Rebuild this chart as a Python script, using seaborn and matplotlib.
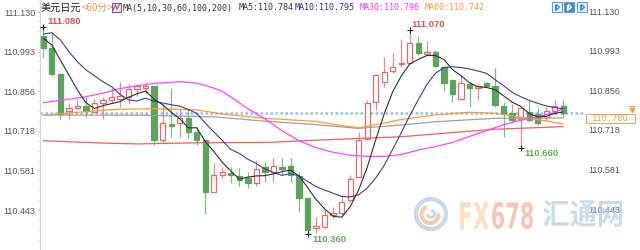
import numpy as np
import matplotlib
matplotlib.use('Agg')
import matplotlib.pyplot as plt
import seaborn as sns
from matplotlib.patches import Rectangle, PathPatch, Ellipse, Arc
from matplotlib.textpath import TextPath
from matplotlib.font_manager import FontProperties
from matplotlib.transforms import Affine2D
from matplotlib.lines import Line2D
from matplotlib.ticker import AutoMinorLocator

# ---------------- data ----------------
opens = [111.046, 111.005, 110.915, 110.787, 110.797, 110.805, 110.785, 110.816, 110.825, 110.830,
         110.835, 110.865, 110.866, 110.874, 110.687, 110.742, 110.745, 110.762, 110.715, 110.687,
         110.505, 110.565, 110.573, 110.563, 110.554, 110.537, 110.594, 110.577, 110.594, 110.597,
         110.563, 110.484, 110.380, 110.386, 110.426, 110.434, 110.478, 110.559, 110.689, 110.818,
         110.889, 110.927, 110.949, 110.955, 111.024, 110.985, 110.993, 110.941, 110.895, 110.828,
         110.881, 110.866, 110.883, 110.874, 110.805, 110.779, 110.758, 110.785, 110.777, 110.768,
         110.788, 110.805]
highs = [111.080, 111.057, 110.915, 110.816, 110.825, 110.835, 110.828, 110.835, 110.866, 110.889,
         110.880, 110.877, 110.889, 110.874, 110.812, 110.866, 110.793, 110.793, 110.733, 110.687,
         110.608, 110.594, 110.594, 110.588, 110.577, 110.617, 110.611, 110.623, 110.625, 110.623,
         110.577, 110.484, 110.420, 110.444, 110.455, 110.496, 110.565, 110.715, 110.825, 110.915,
         110.976, 110.990, 111.036, 111.070, 111.047, 111.030, 111.000, 110.941, 110.895, 110.912,
         110.889, 110.882, 110.889, 110.935, 110.820, 110.810, 110.797, 110.825, 110.800, 110.800,
         110.826, 110.826]
lows = [110.970, 110.909, 110.758, 110.758, 110.793, 110.768, 110.785, 110.758, 110.815, 110.800,
        110.810, 110.840, 110.846, 110.669, 110.675, 110.698, 110.698, 110.695, 110.669, 110.430,
        110.505, 110.554, 110.536, 110.528, 110.519, 110.528, 110.542, 110.542, 110.565, 110.542,
        110.438, 110.360, 110.365, 110.380, 110.415, 110.420, 110.473, 110.559, 110.687, 110.790,
        110.870, 110.920, 110.940, 110.950, 110.980, 110.980, 110.940, 110.858, 110.820, 110.825,
        110.802, 110.826, 110.870, 110.800, 110.698, 110.750, 110.660, 110.750, 110.740, 110.752,
        110.773, 110.765]
closes = [111.005, 110.915, 110.776, 110.797, 110.805, 110.787, 110.814, 110.825, 110.835, 110.839,
          110.863, 110.874, 110.875, 110.687, 110.745, 110.735, 110.764, 110.715, 110.687, 110.505,
          110.565, 110.574, 110.565, 110.548, 110.537, 110.586, 110.577, 110.597, 110.586, 110.565,
          110.486, 110.374, 110.389, 110.426, 110.434, 110.472, 110.553, 110.687, 110.814, 110.912,
          110.922, 110.941, 110.955, 111.024, 110.987, 110.993, 110.943, 110.885, 110.846, 110.883,
          110.866, 110.874, 110.875, 110.808, 110.779, 110.756, 110.797, 110.756, 110.747, 110.788,
          110.805, 110.780]

ma5 = [111.040, 111.016, 110.964, 110.912, 110.860, 110.816, 110.796, 110.806, 110.813, 110.820,
       110.835, 110.847, 110.857, 110.828, 110.809, 110.783, 110.761, 110.729, 110.729, 110.681,
       110.647, 110.609, 110.579, 110.551, 110.558, 110.562, 110.563, 110.569, 110.577, 110.582,
       110.562, 110.522, 110.480, 110.448, 110.422, 110.419, 110.455, 110.514, 110.592, 110.688,
       110.778, 110.855, 110.909, 110.951, 110.966, 110.980, 110.980, 110.966, 110.931, 110.910,
       110.885, 110.871, 110.869, 110.861, 110.840, 110.818, 110.803, 110.779, 110.767, 110.769,
       110.779, 110.784]
ma10 = [111.054, 111.059, 111.034, 110.993, 110.958, 110.930, 110.909, 110.889, 110.872, 110.845,
        110.826, 110.822, 110.832, 110.821, 110.815, 110.809, 110.804, 110.793, 110.779, 110.745,
        110.715, 110.685, 110.654, 110.640, 110.620, 110.605, 110.586, 110.574, 110.564, 110.570,
        110.562, 110.543, 110.525, 110.513, 110.502, 110.491, 110.489, 110.497, 110.520, 110.555,
        110.599, 110.655, 110.712, 110.772, 110.827, 110.879, 110.918, 110.938, 110.941, 110.938,
        110.933, 110.926, 110.918, 110.896, 110.875, 110.852, 110.837, 110.824, 110.814, 110.805,
        110.799, 110.795]
ma30_idx = [1, 4, 6, 8, 10, 12, 14, 17, 19, 21, 22, 23, 25, 26, 27, 29, 31, 33, 35, 37, 39, 41,
            43, 45, 47, 49, 51, 53, 55, 57, 59, 61, 62]
ma30 = [110.816, 110.828, 110.837, 110.849, 110.865, 110.875, 110.883, 110.889, 110.884, 110.867,
        110.855, 110.836, 110.795, 110.778, 110.760, 110.719, 110.684, 110.660, 110.644, 110.634,
        110.630, 110.630, 110.636, 110.652, 110.664, 110.678, 110.699, 110.719, 110.740, 110.755,
        110.768, 110.782, 110.796]
ma60_idx = [1, 6, 9, 11, 14, 19, 22, 27, 33, 36, 38, 41, 43, 47, 51, 54, 58, 60, 62]
ma60 = [110.773, 110.785, 110.792, 110.794, 110.795, 110.791, 110.777, 110.762, 110.751, 110.737,
        110.729, 110.745, 110.758, 110.774, 110.783, 110.779, 110.761, 110.753, 110.742]
ma100_idx = [1, 12, 21, 27, 33, 38, 43, 47, 54, 62]
ma100 = [110.773, 110.773, 110.767, 110.752, 110.740, 110.727, 110.739, 110.750, 110.762, 110.763]
ma200_idx = [1, 8, 12, 19, 27, 33, 38, 43, 48, 54, 62]
ma200 = [110.684, 110.676, 110.673, 110.677, 110.678, 110.686, 110.692, 110.698, 110.710, 110.724,
         110.733]

yticks = [110.443, 110.581, 110.718, 110.856, 110.993, 111.130]
ytick_labels = ['110.443', '110.581', '110.718', '110.856', '110.993', '111.130']
last_price = 110.780
extremes = [(1, 111.080, '111.080', '#e05050', 2.7, 3.6),
            (44, 111.070, '111.070', '#e05050', 1.0, 3.6),
            (32, 110.360, '110.360', '#62a85a', 3.3, -3.6),
            (57, 110.660, '110.660', '#62a85a', 2.6, -4.1)]
title_cn = '美元日元'
title_period = '<60分>'
title_ma = 'MA(5,10,30,60,100,200)'
legend_items = [('MA5:110.784', '#333333', 239),
                ('MA10:110.795', '#2a2aa0', 295),
                ('MA30:110.796', '#ff33ff', 360),
                ('MA60:110.742', '#ff9933', 425)]

# ---------------- style ----------------
sns.set_theme(style='white')
plt.rcParams['font.family'] = ['Liberation Sans', 'Noto Sans CJK SC', 'DejaVu Sans']

W, H = 640, 250
def fx(x):
    return x / W
def fy(y):
    return 1 - y / H

fig = plt.figure(figsize=(6.4, 2.5), dpi=100)
fig.patch.set_facecolor('white')
ax = fig.add_axes([40 / W, 0, 545 / W, 1])
ax.set_facecolor('white')

idx = np.arange(1, len(closes) + 1)
o = np.array(opens); c = np.array(closes)
h = np.array(highs); l = np.array(lows)
up = c >= o
red, green = '#e26a6a', '#5ca45c'
wick_cols = np.where(up, '#e88a8a', '#7fba7f')
ax.vlines(idx, l, h, colors=wick_cols, lw=0.9, zorder=2)
bottoms = np.minimum(o, c)
heights = np.maximum(np.abs(c - o), 0.0018)
ax.bar(idx, heights, bottom=bottoms, width=0.62,
       color=np.where(up, 'white', green), edgecolor=np.where(up, red, green),
       linewidth=0.9, zorder=3)

ax.axhline(last_price, color='#8cc2f2', ls=(0, (1.0, 1.0)), lw=1.8, zorder=1.5)

sns.lineplot(x=ma200_idx, y=ma200, ax=ax, color='#e8625c', lw=0.9, zorder=4)
sns.lineplot(x=ma100_idx, y=ma100, ax=ax, color='#a0a0a0', lw=0.9, zorder=4)
sns.lineplot(x=ma60_idx, y=ma60, ax=ax, color='#ff9a30', lw=0.9, zorder=4)
sns.lineplot(x=ma30_idx, y=ma30, ax=ax, color='#ff44ff', lw=0.9, zorder=4)
sns.lineplot(x=idx, y=ma10, ax=ax, color='#3c3ca8', lw=0.8, zorder=5)
sns.lineplot(x=idx, y=ma5, ax=ax, color='#303030', lw=0.8, zorder=6)

for i, v, txt, col, dx, dy in extremes:
    ax.plot([i], [v], marker='+', ms=4, mew=0.8, color='#222222', zorder=7)
    ax.annotate(txt, xy=(i, v), xytext=(dx, dy), textcoords='offset points',
                ha='left', va='center', fontsize=6.8, color=col, fontweight='semibold',
                annotation_clip=False, zorder=7)

ax.set_xlim(0.61, 64.55)
ax.set_ylim(110.305, 111.1724)
ax.set_xticks([])
ax.set_yticks(yticks)
ax.set_yticklabels(ytick_labels)
ax.yaxis.set_minor_locator(AutoMinorLocator(4))
ax.tick_params(axis='y', which='major', left=True, right=False, length=2.5, width=0.6,
               color='#c8c8c8', labelsize=6.5, labelcolor='#555555', pad=1, direction='out')
ax.tick_params(axis='y', which='minor', left=True, right=False, length=1.5, width=0.5,
               color='#d0d0d0', direction='out')
for s in ['top', 'right', 'bottom']:
    ax.spines[s].set_visible(False)
ax.spines['left'].set_color('#d4d4d4')
ax.spines['left'].set_linewidth(0.8)

for v, lab in zip(yticks, ytick_labels):
    ax.annotate(lab, xy=(1, v), xycoords=('axes fraction', 'data'), xytext=(2.3, 0),
                textcoords='offset points', ha='left', va='center', fontsize=6.5,
                color='#555555', annotation_clip=False)

# last price tag on right
fig.add_artist(Rectangle((fx(586), fy(123)), 49 / W, 9 / H, transform=fig.transFigure,
                         facecolor='white', edgecolor='#f2a860', lw=0.8))
fig.text(fx(610.5), fy(118.5), f'{last_price:.3f}', ha='center', va='center',
         fontsize=6.3, color='#e89a50', family='DejaVu Sans Mono')
fig.add_artist(Line2D([fx(629), fx(634)], [fy(106.5), fy(106.5)], transform=fig.transFigure,
                      color='#f0a050', lw=0.8))
fig.add_artist(Line2D([fx(631.5)], [fy(110)], transform=fig.transFigure, marker='v', ms=3.2,
                      color='#f0a050', lw=0))

# title row
fig.text(fx(41), fy(8), title_cn, ha='left', va='center', fontsize=7.3, color='#222222',
         family=['Noto Sans CJK SC', 'DejaVu Sans'])
fig.text(fx(82), fy(8), title_period, ha='left', va='center', fontsize=7.0, color='#ef9a40',
         family=['Noto Sans CJK SC', 'DejaVu Sans'])
fig.add_artist(Rectangle((fx(111.5), fy(12)), 9 / W, 9 / H, transform=fig.transFigure,
                         facecolor='#dfe8ff', edgecolor='#4a62c8', lw=0.8))
fig.add_artist(Line2D([fx(113), fx(115.5), fx(117), fx(119.5)], [fy(10), fy(5), fy(9), fy(4.5)],
                      transform=fig.transFigure, color='#e04040', lw=0.8))
fig.text(fx(122.5), fy(8), title_ma, ha='left', va='center', fontsize=6.0, color='#333333',
         family='DejaVu Sans Mono')
for txt, col, x0 in legend_items:
    fig.text(fx(x0), fy(8), txt, ha='left', va='center', fontsize=6.0, color=col,
             family='DejaVu Sans Mono')

# top-right buttons
for k, (x0, filled) in enumerate([(552, False), (564, True), (577, False)]):
    fig.add_artist(Rectangle((fx(x0), fy(12)), 9.5 / W, 9.5 / H, transform=fig.transFigure,
                             facecolor='#3d8ede' if filled else '#eef5fc',
                             edgecolor='#5a9fe0', lw=0.8))
    gc = 'white' if filled else '#3d8ede'
    fig.add_artist(Line2D([fx(x0 + 3), fx(x0 + 3)], [fy(4.5), fy(10)], transform=fig.transFigure,
                          color=gc, lw=0.9))
    fig.add_artist(Line2D([fx(x0 + 4.5), fx(x0 + 7.5), fx(x0 + 4.5), fx(x0 + 4.5)],
                          [fy(4.5), fy(7.2), fy(10), fy(4.5)], transform=fig.transFigure,
                          color=gc, lw=0.9))

# watermark
def path_text(txt, x0, y0, x1, y1, color, family, weight='bold', alpha=0.7):
    prop = FontProperties(family=family, weight=weight)
    tp = TextPath((0, 0), txt, size=50, prop=prop)
    bb = tp.get_extents()
    sx = (x1 - x0) / bb.width
    sy = (y1 - y0) / bb.height
    tr = Affine2D().translate(-bb.x0, -bb.y0).scale(sx, sy).translate(x0, H - y1)
    fig.add_artist(PathPatch(tp, transform=tr, facecolor=color, edgecolor='none', alpha=alpha))

path_text('FX', 460, 202, 489, 229, '#fcd3a4', 'DejaVu Sans')
path_text('678', 492, 202, 533, 229, '#f7ad9a', 'DejaVu Sans')
path_text('汇通网', 543, 200, 622, 227, '#b6cde8', 'Noto Sans CJK SC')
fig.add_artist(Ellipse((fx(431), fy(214)), 30 / W, 30 / H, transform=fig.transFigure,
                       facecolor='none', edgecolor='#bcd0e8', lw=3.2, alpha=0.8))
fig.add_artist(Arc((fx(430), fy(214.5)), 17 / W, 17 / H, theta1=100, theta2=380,
                   transform=fig.transFigure, color='#f8c2a0', lw=3.0, alpha=0.85))
fig.add_artist(Arc((fx(431), fy(214)), 7 / W, 7 / H, theta1=180, theta2=450,
                   transform=fig.transFigure, color='#bcd0e8', lw=2.0, alpha=0.85))

fig.savefig('out.png', dpi=100)
